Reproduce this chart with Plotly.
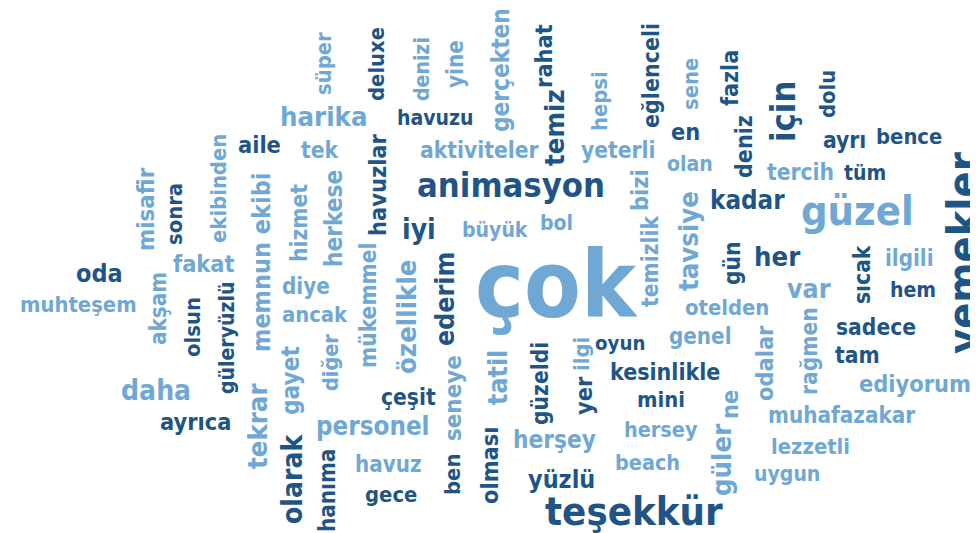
import plotly.graph_objects as go

# ---- data: word, weight (frequency-based size), colour group ----
words = [
    "harika", "aile", "tek", "havuzu", "aktiviteler", "yeterli", "animasyon", "en", "olan", "ayrı",
    "bence", "tercih", "tüm", "oda", "muhteşem", "fakat", "diye", "ancak", "iyi", "büyük",
    "bol", "çok", "oyun", "kadar", "güzel", "her", "var", "ilgili", "hem", "otelden",
    "genel", "sadece", "tam", "daha", "ayrıca", "çeşit", "personel", "havuz", "gece", "herşey",
    "yüzlü", "teşekkür", "kesinlikle", "mini", "hersey", "beach", "ediyorum", "muhafazakar", "lezzetli", "uygun",
    "süper", "deluxe", "denizi", "yine", "gerçekten", "rahat", "temiz", "hepsi", "eğlenceli", "sene",
    "fazla", "deniz", "için", "dolu", "yemekler", "misafir", "sonra", "ekibinden", "memnun ekibi", "hizmet",
    "herkese", "havuzlar", "akşam", "olsun", "güleryüzlü", "mükemmel", "diğer", "gayet", "tekrar", "olarak",
    "hanıma", "özellikle", "ederim", "seneye", "tatil", "ben", "olması", "güzeldi", "ilgi", "yer",
    "bizi", "temizlik", "tavsiye", "gün", "sıcak", "odalar", "rağmen", "ne", "güler",
]
weights = [
    35, 30, 29, 27, 29, 29, 44, 30, 27, 29,
    28, 29, 27, 32, 28, 30, 28.5, 28, 36, 27,
    27, 118, 26, 33, 53, 35, 34, 28.5, 27, 28,
    28.5, 29, 29, 36, 30, 29, 33, 28.5, 28, 31,
    32, 51, 29.5, 28, 27.5, 27.5, 30, 28.6, 28, 27,
    28, 28, 27, 28.6, 31, 30, 35, 28, 29.5, 28,
    29.6, 29.6, 44, 28, 55, 30.5, 28, 28, 32, 29,
    31, 30, 28.6, 28, 27, 29, 27.5, 31, 35, 36,
    28.6, 35, 34, 30.6, 34, 28, 30, 29, 28, 30,
    30, 29, 35, 29, 29, 30, 29, 30, 35,
]
tones = [
    "l", "d", "l", "d", "l", "l", "d", "d", "l", "d",
    "d", "l", "d", "d", "l", "l", "l", "l", "d", "l",
    "l", "l", "d", "d", "l", "d", "l", "l", "d", "l",
    "l", "d", "d", "l", "d", "d", "l", "l", "d", "l",
    "d", "d", "d", "d", "l", "l", "l", "l", "l", "l",
    "l", "d", "l", "l", "l", "d", "d", "l", "d", "l",
    "d", "d", "d", "d", "d", "l", "d", "l", "l", "l",
    "l", "d", "l", "d", "d", "l", "l", "l", "l", "d",
    "d", "l", "d", "l", "l", "d", "d", "d", "l", "d",
    "l", "l", "l", "d", "d", "l", "l", "l", "l",
]

# ---- cloud layout (placement of each word) ----
pos_x = [
    315, 251, 312, 427, 471, 610, 503, 677, 682, 836,
    901, 792, 857, 91, 70, 196, 298, 307, 411, 487,
    548, 548, 612, 739, 849, 769, 801, 901, 905, 719,
    692, 868, 849, 148, 187, 400, 365, 380, 383, 546,
    553, 626, 657, 653, 653, 639, 907, 833, 802, 779,
    315, 368, 413, 447, 493, 536, 546, 591, 643, 682,
    722, 736, 775, 819, 955, 138, 166, 210, 253, 291,
    326, 370, 150, 184, 218, 360, 322, 283, 249, 284,
    319, 398, 436, 445, 489, 444, 482, 532, 573, 576,
    632, 642, 680, 724, 854, 757, 801, 722, 713,
]
pos_y = [
    108, 137, 142, 109, 142, 142, 177, 124, 155, 132,
    128, 164, 164, 265, 296, 256, 278, 306, 221, 221,
    214, 277, 335, 192, 203, 248, 280, 250, 281, 299,
    328, 319, 347, 382, 414, 389, 418, 456, 486, 432,
    471, 503, 364, 391, 421, 454, 376, 407, 438, 465,
    56, 56, 61, 56, 62, 48, 120, 93, 68, 76,
    70, 139, 104, 86, 245, 201, 206, 181, 255, 215,
    211, 177, 301, 319, 330, 297, 355, 373, 418, 471,
    483, 309, 291, 390, 370, 467, 457, 376, 346, 388,
    182, 254, 233, 255, 267, 355, 343, 397, 452,
]
n_horizontal = 50
angles = [0] * n_horizontal + [-90] * (len(words) - n_horizontal)

palette = {"d": "#1f5486", "l": "#6fa7d5"}
FONT = "DejaVu Sans Condensed, sans-serif"
FONT_SCALE = 0.78  # weight -> px for this condensed face

fig = go.Figure()
fig.add_trace(go.Scatter(x=[0, 978], y=[0, 533], mode="markers",
                         marker=dict(opacity=0), hoverinfo="skip", showlegend=False))

for w, s, t, x, y, a in zip(words, weights, tones, pos_x, pos_y, angles):
    fig.add_annotation(
        x=x, y=y, text=w, showarrow=False, textangle=a,
        xanchor="center", yanchor="middle",
        font=dict(family=FONT, size=s * FONT_SCALE, color=palette[t], weight="bold"),
    )

fig.update_xaxes(range=[0, 978], visible=False, fixedrange=True)
fig.update_yaxes(range=[533, 0], visible=False, fixedrange=True)
fig.update_layout(width=978, height=533, margin=dict(l=0, r=0, t=0, b=0),
                  paper_bgcolor="white", plot_bgcolor="white")

fig.write_html("out.html")
